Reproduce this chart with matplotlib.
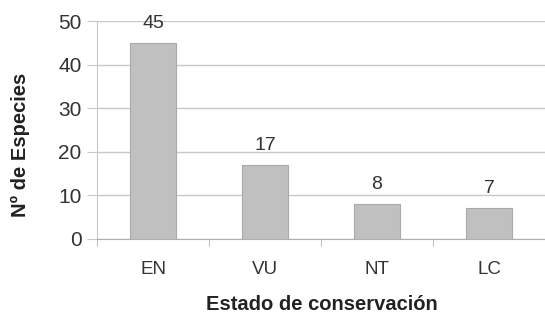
import matplotlib.pyplot as plt

categories = ["EN", "VU", "NT", "LC"]
species = [45, 17, 8, 7]
yticks = [0, 10, 20, 30, 40, 50]

plt.rcParams['font.family'] = ['Liberation Sans', 'DejaVu Sans']
txt = "#333333"

fig = plt.figure(figsize=(5.45, 3.14), dpi=100)
ax = fig.add_axes([97 / 545, 1 - 239 / 314, 1 - 97 / 545, 218 / 314])

bars = ax.bar(range(len(categories)), species, width=0.41,
              color="#c0c0c0", edgecolor="#a9a9a9", linewidth=0.8, zorder=3)
for b, v in zip(bars, species):
    ax.annotate(str(v), (b.get_x() + b.get_width() / 2, v), xytext=(0, 8),
                textcoords="offset points", ha="center", va="bottom",
                fontsize=14, color=txt)

ax.set_ylim(0, 50)
ax.set_xlim(-0.5, 3.43)
ax.set_yticks(yticks)
ax.yaxis.grid(True, color="#c8c8c8", linewidth=1, zorder=0)
ax.set_xticks(range(len(categories)))
ax.set_xticklabels(categories)
ax.set_xticks([-0.5, 0.5, 1.5, 2.5, 3.5], minor=True)
ax.tick_params(axis="x", which="major", length=0, pad=16, labelsize=13.5, labelcolor=txt)
ax.tick_params(axis="x", which="minor", length=5, color="#b0b0b0")
ax.tick_params(axis="y", length=7, color="#c8c8c8", labelsize=15, labelcolor=txt, pad=4)

for s in ["top", "right"]:
    ax.spines[s].set_visible(False)
ax.spines["left"].set_color("#c8c8c8")
ax.spines["bottom"].set_color("#b0b0b0")

fig.text(0.591, 0.03, "Estado de conservación", ha="center", va="center",
         fontsize=14.5, fontweight="bold", color="#222222")
fig.text(0.037, 0.54, "Nº de Especies", ha="center", va="center", rotation=90,
         fontsize=14.5, fontweight="bold", color="#222222")

fig.savefig("out.png", dpi=100)
